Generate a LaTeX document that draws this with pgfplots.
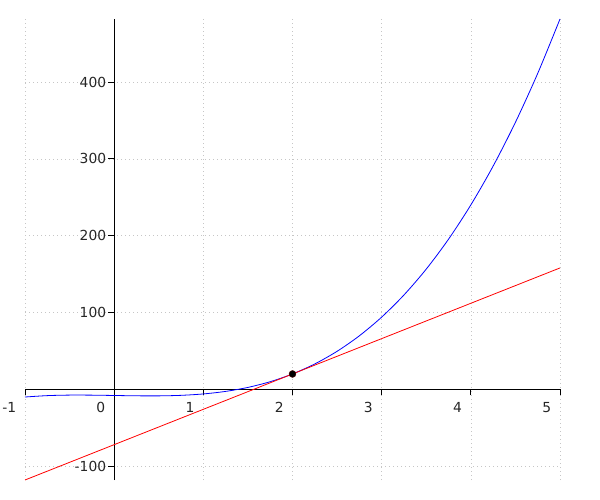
\documentclass[border=0pt]{standalone}
\usepackage{fontspec}
\setmainfont{DejaVu Sans}
\usepackage{pgfplots}
\pgfplotsset{compat=1.18}
\begin{document}
\begin{tikzpicture}
\useasboundingbox (0,0) rectangle (600bp,500bp);
\begin{axis}[
  at={(25bp,20bp)}, anchor=south west,
  scale only axis, width=535bp, height=461bp,
  xmin=-1, xmax=5, ymin=-118, ymax=482,
  enlargelimits=false, clip=false,
  axis lines=middle,
  hide obscured x ticks=false,
  axis line style={-, black, line width=0.8bp},
  xtick={-1,0,1,2,3,4,5},
  xticklabels={-1,0,1,2,3,4,5},
  ytick={-100,100,200,300,400},
  yticklabels={-100,100,200,300,400},
  tick align=outside,
  major tick length=6bp,
  tick style={black, line width=0.8bp},
  ticklabel style={font=\fontsize{13.9}{16}\selectfont, text=black!85},
  xticklabel style={anchor=north east, xshift=-5.4bp, yshift=-3.4bp},
  yticklabel style={anchor=east, xshift=1.5bp},
  grid=major,
  major grid style={gray!45, line width=0.6bp, dash pattern=on 1bp off 3bp},
]
\addplot[blue, line width=0.8bp, smooth] coordinates {
(-1,-10) (-0.75,-8.1875) (-0.5,-7.5) (-0.25,-7.5625) (0,-8) (0.25,-8.4375)
(0.5,-8.5) (0.75,-7.8125) (1,-6) (1.25,-2.6875) (1.5,2.5) (1.75,9.9375)
(2,20) (2.25,33.0625) (2.5,49.5) (2.75,69.6875) (3,94) (3.25,122.8125)
(3.5,156.5) (3.75,195.4375) (4,240) (4.25,290.5625) (4.5,347.5)
(4.75,411.1875) (5,482)
};
\addplot[red, line width=0.8bp] coordinates {(-1,-118) (5,158)};
\addplot[only marks, mark=*, mark size=3.5bp, mark options={fill=black, draw=black!70!red}] coordinates {(2,20)};
\end{axis}
\end{tikzpicture}
\end{document}
